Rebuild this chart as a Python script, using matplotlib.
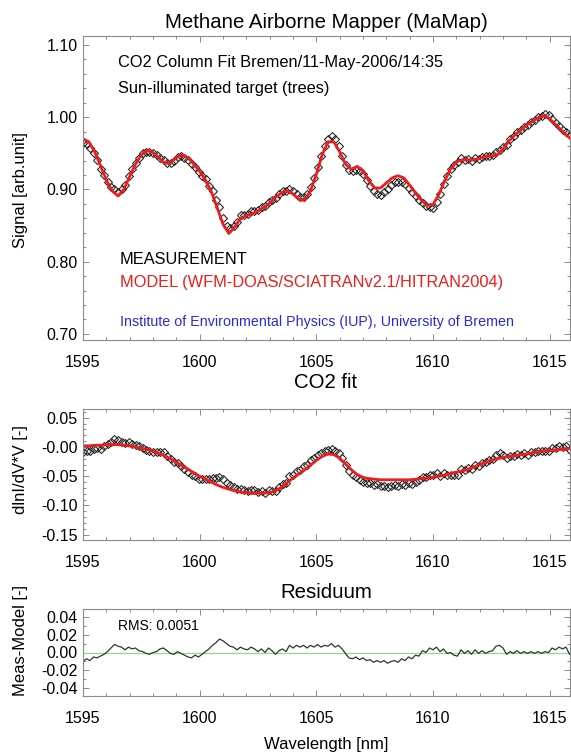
import numpy as np
import matplotlib
matplotlib.use("Agg")
import matplotlib.pyplot as plt
from matplotlib.ticker import MultipleLocator

plt.rcParams['font.family'] = ['Liberation Sans', 'DejaVu Sans']

# wavelength grids (nm): measurement samples and model samples
wl_meas = np.round(1595.0 + 0.15 * np.arange(140), 2)
wl_model = np.round(1595.0 + 0.25 * np.arange(85), 2)

# top panel: signal [arb.unit]
signal_meas = [
    0.964, 0.963, 0.958, 0.951, 0.941, 0.929, 0.920, 0.911, 0.904, 0.900,
    0.896, 0.900, 0.906, 0.918, 0.928, 0.937, 0.944, 0.950, 0.952, 0.952,
    0.950, 0.948, 0.944, 0.941, 0.937, 0.936, 0.940, 0.945, 0.946, 0.944,
    0.941, 0.935, 0.931, 0.924, 0.918, 0.914, 0.905, 0.898, 0.886, 0.875,
    0.860, 0.850, 0.846, 0.850, 0.855, 0.864, 0.865, 0.866, 0.870, 0.870,
    0.871, 0.875, 0.877, 0.883, 0.885, 0.888, 0.894, 0.898, 0.898, 0.901,
    0.898, 0.894, 0.890, 0.889, 0.894, 0.903, 0.916, 0.931, 0.947, 0.960,
    0.970, 0.974, 0.970, 0.960, 0.947, 0.934, 0.927, 0.925, 0.927, 0.925,
    0.922, 0.913, 0.905, 0.898, 0.893, 0.892, 0.896, 0.901, 0.906, 0.910,
    0.911, 0.910, 0.907, 0.902, 0.897, 0.891, 0.885, 0.881, 0.877, 0.875,
    0.874, 0.882, 0.894, 0.907, 0.918, 0.928, 0.934, 0.938, 0.943, 0.941,
    0.942, 0.940, 0.943, 0.942, 0.945, 0.946, 0.947, 0.948, 0.952, 0.955,
    0.959, 0.962, 0.970, 0.974, 0.979, 0.982, 0.987, 0.989, 0.994, 0.996,
    1.000, 1.002, 1.004, 1.003, 0.998, 0.992, 0.988, 0.983, 0.979, 0.975,
]
signal_model = [
    0.970, 0.966, 0.952, 0.933, 0.913, 0.898, 0.891, 0.900, 0.918, 0.935,
    0.948, 0.954, 0.951, 0.944, 0.936, 0.937, 0.944, 0.948, 0.944, 0.935,
    0.925, 0.913, 0.897, 0.875, 0.852, 0.839, 0.848, 0.860, 0.864, 0.866,
    0.870, 0.875, 0.881, 0.889, 0.895, 0.898, 0.894, 0.886, 0.885, 0.898,
    0.921, 0.948, 0.966, 0.966, 0.952, 0.935, 0.928, 0.932, 0.926, 0.912,
    0.902, 0.902, 0.909, 0.916, 0.919, 0.916, 0.906, 0.895, 0.885, 0.878,
    0.879, 0.893, 0.912, 0.928, 0.938, 0.941, 0.941, 0.941, 0.943, 0.946,
    0.946, 0.948, 0.956, 0.967, 0.975, 0.982, 0.989, 0.994, 0.999, 1.002,
    0.998, 0.990, 0.982, 0.974, 0.968,
]

# middle panel: CO2 fit, dlnI/dV*V
co2_meas = [
    -0.008, -0.006, -0.007, -0.003, -0.002, -0.003, 0.002, 0.005, 0.009, 0.013,
    0.012, 0.009, 0.007, 0.008, 0.006, 0.004, 0.001, -0.001, -0.005, -0.007,
    -0.008, -0.008, -0.008, -0.009, -0.015, -0.021, -0.026, -0.027, -0.032, -0.037,
    -0.043, -0.048, -0.049, -0.054, -0.055, -0.054, -0.054, -0.053, -0.053, -0.052,
    -0.055, -0.061, -0.065, -0.068, -0.072, -0.071, -0.073, -0.075, -0.073, -0.074,
    -0.077, -0.075, -0.078, -0.073, -0.075, -0.076, -0.069, -0.064, -0.061, -0.050,
    -0.047, -0.041, -0.039, -0.033, -0.030, -0.023, -0.019, -0.014, -0.011, -0.006,
    -0.005, -0.003, -0.007, -0.010, -0.019, -0.030, -0.041, -0.048, -0.051, -0.057,
    -0.059, -0.062, -0.062, -0.065, -0.064, -0.067, -0.066, -0.068, -0.067, -0.065,
    -0.066, -0.064, -0.065, -0.062, -0.063, -0.059, -0.057, -0.052, -0.052, -0.048,
    -0.048, -0.045, -0.049, -0.044, -0.047, -0.047, -0.047, -0.047, -0.038, -0.040,
    -0.036, -0.037, -0.030, -0.032, -0.027, -0.026, -0.023, -0.020, -0.014, -0.011,
    -0.013, -0.019, -0.015, -0.015, -0.012, -0.013, -0.011, -0.013, -0.009, -0.009,
    -0.007, -0.007, -0.006, -0.006, -0.001, -0.001, 0.002, 0.000, 0.002, -0.005,
]
co2_model = [
    0.002, 0.002, 0.003, 0.003, 0.004, 0.004, 0.004, 0.003, 0.002, 0.000,
    -0.002, -0.004, -0.007, -0.011, -0.015, -0.020, -0.026, -0.032, -0.038, -0.044,
    -0.050, -0.055, -0.060, -0.065, -0.069, -0.072, -0.075, -0.077, -0.078, -0.079,
    -0.079, -0.079, -0.078, -0.075, -0.069, -0.061, -0.053, -0.046, -0.039, -0.031,
    -0.023, -0.016, -0.012, -0.013, -0.019, -0.029, -0.039, -0.047, -0.052, -0.054,
    -0.055, -0.056, -0.056, -0.056, -0.056, -0.056, -0.056, -0.055, -0.054, -0.053,
    -0.052, -0.050, -0.048, -0.046, -0.043, -0.041, -0.038, -0.034, -0.030, -0.026,
    -0.023, -0.020, -0.018, -0.016, -0.015, -0.013, -0.012, -0.010, -0.008, -0.007,
    -0.006, -0.005, -0.004, -0.003, -0.003,
]

# bottom panel: residuum (Meas-Model)
residuum = [
    -0.010, -0.007, -0.009, -0.005, -0.006, -0.004, -0.002, 0.001, 0.005, 0.009,
    0.007, 0.006, 0.003, 0.006, 0.004, 0.005, 0.002, 0.001, -0.001, -0.002,
    0.000, 0.001, 0.004, 0.005, 0.002, -0.001, -0.002, 0.001, -0.001, -0.003,
    -0.005, -0.006, -0.003, -0.005, -0.002, 0.001, 0.004, 0.008, 0.011, 0.015,
    0.013, 0.010, 0.007, 0.006, 0.003, 0.006, 0.004, 0.003, 0.006, 0.004,
    0.001, 0.004, 0.000, 0.005, 0.002, -0.002, 0.002, 0.004, 0.001, 0.008,
    0.005, 0.008, 0.006, 0.008, 0.005, 0.008, 0.006, 0.009, 0.006, 0.008,
    0.007, 0.010, 0.006, 0.008, 0.004, -0.001, -0.006, -0.007, -0.005, -0.008,
    -0.006, -0.009, -0.008, -0.011, -0.009, -0.011, -0.009, -0.012, -0.010, -0.009,
    -0.011, -0.007, -0.009, -0.005, -0.007, -0.003, -0.004, 0.002, 0.000, 0.005,
    0.003, 0.006, 0.001, 0.004, -0.001, 0.000, -0.003, -0.004, 0.003, -0.001,
    0.002, -0.002, 0.003, -0.001, 0.002, -0.001, 0.001, 0.002, 0.007, 0.008,
    0.005, -0.002, 0.001, -0.001, 0.002, -0.001, 0.001, -0.001, 0.001, -0.001,
    0.001, -0.001, 0.001, 0.000, 0.005, 0.003, 0.006, 0.004, 0.006, -0.002,
]

# tick values and labels
x_ticks = [1595, 1600, 1605, 1610, 1615]
top_yticks = [0.70, 0.80, 0.90, 1.00, 1.10]
top_ylabels = ["0.70", "0.80", "0.90", "1.00", "1.10"]
mid_yticks = [0.05, 0.0, -0.05, -0.10, -0.15]
mid_ylabels = ["0.05", "-0.00", "-0.05", "-0.10", "-0.15"]
bot_yticks = [0.04, 0.02, 0.0, -0.02, -0.04]
bot_ylabels = ["0.04", "0.02", "0.00", "-0.02", "-0.04"]

W, H = 571, 753
RED = "#ee1c1c"
FRAME = "#8a8a8a"

fig = plt.figure(figsize=(W / 100, H / 100), dpi=100)


def px_rect(left, top, right, bottom):
    # pixel box -> figure fraction
    return [left / W, 1 - bottom / H, (right - left) / W, (bottom - top) / H]


def ftext(x, y, s, **kw):
    # text placed at pixel coords of the figure
    fig.text(x / W, 1 - y / H, s, **kw)


def style_axes(ax, ylim, yticks, ylabels, yminor):
    ax.set_xlim(1595, 1615.85)
    ax.set_ylim(*ylim)
    ax.set_xticks(x_ticks)
    ax.set_xticklabels([str(t) for t in x_ticks])
    ax.xaxis.set_minor_locator(MultipleLocator(1))
    ax.set_yticks(yticks)
    ax.set_yticklabels(ylabels)
    ax.yaxis.set_minor_locator(MultipleLocator(yminor))
    for sp in ax.spines.values():
        sp.set_color(FRAME)
        sp.set_linewidth(0.8)
    ax.tick_params(which="both", direction="in", top=True, right=True,
                   color=FRAME, width=0.7, labelsize=11.5)
    ax.tick_params(which="major", length=4.5)
    ax.tick_params(which="minor", length=2.2)
    ax.tick_params(axis="x", pad=11)
    ax.tick_params(axis="y", pad=4)


# --- top panel: measurement vs model ---
ax1 = fig.add_axes(px_rect(83, 36, 569.5, 340))
ax1.plot(wl_meas, signal_meas, linestyle="none", marker="D", ms=4.2,
         mfc="none", mec="#2a2a2a", mew=0.8)
ax1.plot(wl_model, signal_model, color=RED, lw=2.0)
style_axes(ax1, (0.6915, 1.1125), top_yticks, top_ylabels, 0.02)

ftext(118, 63, "CO2 Column Fit Bremen/11-May-2006/14:35", fontsize=11.8, va="center")
ftext(118, 88, "Sun-illuminated target (trees)", fontsize=11.8, va="center")
ftext(120, 260, "MEASUREMENT", fontsize=11.8, va="center")
ftext(120, 283, "MODEL (WFM-DOAS/SCIATRANv2.1/HITRAN2004)", fontsize=11.8,
      va="center", color=RED)
ftext(120, 322, "Institute of Environmental Physics (IUP), University of Bremen",
      fontsize=10.3, va="center", color="#2b2bd6")

# --- middle panel: CO2 fit ---
ax2 = fig.add_axes(px_rect(83, 409, 569.5, 540))
ax2.plot(wl_meas, co2_meas, linestyle="none", marker="D", ms=4.2,
         mfc="none", mec="#2a2a2a", mew=0.8)
ax2.plot(wl_model, co2_model, color=RED, lw=2.0)
style_axes(ax2, (-0.159, 0.065), mid_yticks, mid_ylabels, 0.01)

# --- bottom panel: residuum ---
ax3 = fig.add_axes(px_rect(83, 609, 569.5, 696))
ax3.axhline(0.0, color="#8fdc8f", lw=0.9)
ax3.plot(wl_meas, residuum, color="#333333", lw=0.9)
style_axes(ax3, (-0.0485, 0.0485), bot_yticks, bot_ylabels, 0.01)
ftext(118, 626, "RMS: 0.0051", fontsize=10, va="center")

# titles and axis labels
ftext(326, 28, "Methane Airborne Mapper (MaMap)", fontsize=14.7, ha="center", va="baseline")
ftext(326, 388, "CO2 fit", fontsize=14.7, ha="center", va="baseline")
ftext(326, 598, "Residuum", fontsize=14.7, ha="center", va="baseline")
ftext(326, 744, "Wavelength [nm]", fontsize=12, ha="center", va="center")
ftext(21, 190, "Signal [arb.unit]", fontsize=12, rotation=90, ha="center", va="center")
ftext(21, 470, "dlnI/dV*V [-]", fontsize=12, rotation=90, ha="center", va="center")
ftext(21, 641, "Meas-Model [-]", fontsize=12, rotation=90, ha="center", va="center")

fig.savefig("out.png", dpi=100)
